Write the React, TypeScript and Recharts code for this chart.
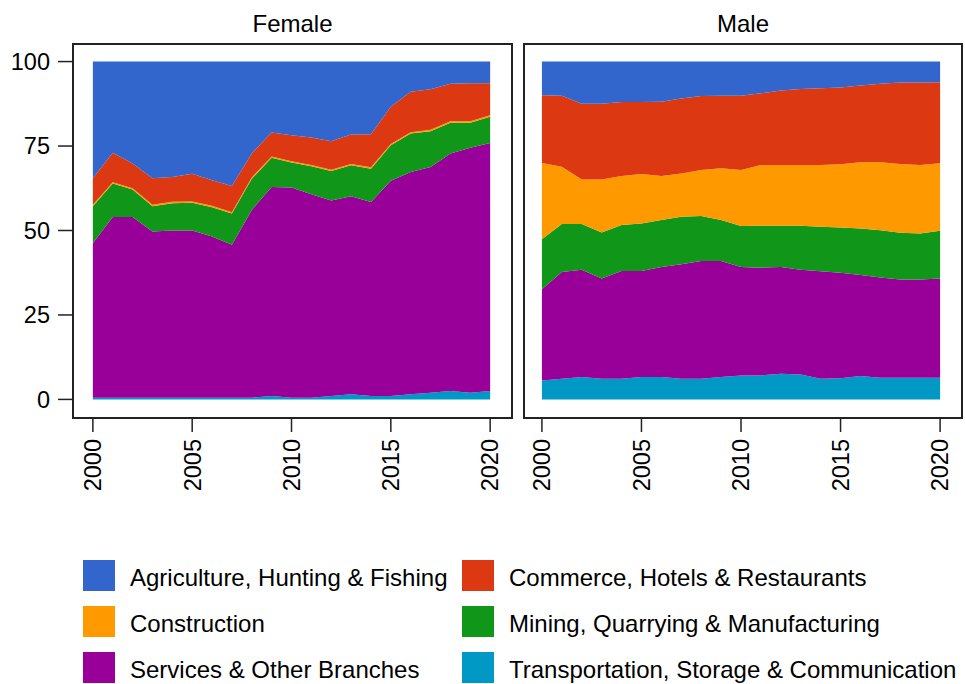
import React from "react";
import { AreaChart, Area, XAxis, YAxis, ReferenceArea } from "recharts";

const years = [2000, 2001, 2002, 2003, 2004, 2005, 2006, 2007, 2008, 2009, 2010, 2011, 2012, 2013, 2014, 2015, 2016, 2017, 2018, 2019, 2020];
const yearTicks = [2000, 2005, 2010, 2015, 2020];
const shareTicks = [0, 25, 50, 75, 100];

// Female shares (%)
const femaleTransport = [0.5, 0.5, 0.5, 0.5, 0.5, 0.5, 0.5, 0.5, 0.5, 1.0, 0.5, 0.5, 1.0, 1.5, 1.0, 1.0, 1.5, 2.0, 2.5, 2.0, 2.5];
const femaleServices = [45.7, 53.5, 53.5, 49.2, 49.5, 49.5, 47.7, 45.3, 55.6, 61.9, 62.2, 60.2, 57.9, 58.6, 57.4, 63.7, 65.8, 66.8, 70.3, 72.5, 73.4];
const femaleMining = [11.0, 9.9, 8.1, 7.5, 8.1, 8.2, 8.7, 9.2, 9.2, 8.6, 7.4, 8.3, 8.7, 9.2, 9.9, 10.5, 11.4, 10.6, 9.1, 7.4, 7.8];
const femaleConstruction = [0.4, 0.4, 0.4, 0.4, 0.4, 0.4, 0.4, 0.4, 0.4, 0.4, 0.4, 0.4, 0.4, 0.4, 0.4, 0.4, 0.4, 0.4, 0.4, 0.4, 0.4];
const femaleCommerce = [7.9, 8.7, 7.3, 7.9, 7.3, 8.2, 7.6, 7.8, 7.1, 7.1, 7.7, 8.1, 8.4, 8.7, 9.8, 11.0, 12.0, 12.0, 11.1, 11.3, 9.5];
const femaleAgriculture = [34.5, 27.0, 30.2, 34.5, 34.2, 33.2, 35.1, 36.8, 27.2, 21.0, 21.8, 22.5, 23.6, 21.6, 21.5, 13.4, 8.9, 8.2, 6.6, 6.4, 6.4];

// Male shares (%)
const maleTransport = [5.6, 6.1, 6.6, 6.1, 6.1, 6.6, 6.6, 6.1, 6.1, 6.6, 7.1, 7.1, 7.6, 7.4, 6.1, 6.3, 6.9, 6.4, 6.4, 6.4, 6.4];
const maleServices = [27.0, 31.6, 31.8, 29.7, 31.9, 31.4, 32.6, 33.9, 34.9, 34.4, 32.1, 31.9, 31.6, 31.0, 31.8, 31.2, 29.9, 29.7, 29.1, 29.1, 29.4];
const maleMining = [14.8, 14.2, 13.5, 13.6, 13.6, 14.1, 13.9, 14.1, 13.3, 12.1, 12.1, 12.4, 12.2, 13.0, 13.2, 13.4, 13.8, 14.0, 13.8, 13.6, 14.1];
const maleConstruction = [22.6, 17.0, 13.2, 15.7, 14.5, 14.6, 13.0, 12.8, 13.6, 15.3, 16.6, 18.0, 18.0, 18.0, 18.3, 18.7, 19.6, 20.1, 20.4, 20.3, 20.0];
const maleCommerce = [20.0, 21.0, 22.4, 22.4, 21.9, 21.3, 22.0, 22.2, 21.9, 21.5, 22.0, 21.2, 22.0, 22.5, 22.7, 22.7, 22.7, 23.2, 24.1, 24.4, 24.0];
const maleAgriculture = [10.0, 10.1, 12.5, 12.5, 12.0, 12.0, 11.9, 10.9, 10.2, 10.1, 10.1, 9.4, 8.6, 8.1, 7.9, 7.7, 7.1, 6.6, 6.2, 6.2, 6.1];

// stacking order, bottom first
const sectors = [
  { key: "transport", name: "Transportation, Storage & Communication", color: "#0099C6" },
  { key: "services", name: "Services & Other Branches", color: "#990099" },
  { key: "mining", name: "Mining, Quarrying & Manufacturing", color: "#109618" },
  { key: "construction", name: "Construction", color: "#FF9900" },
  { key: "commerce", name: "Commerce, Hotels & Restaurants", color: "#DC3912" },
  { key: "agriculture", name: "Agriculture, Hunting & Fishing", color: "#3366CC" },
];

// legend reads row by row, alphabetical
const legendOrder = ["agriculture", "commerce", "construction", "mining", "services", "transport"];

const femaleData = years.map((year, i) => ({
  year,
  transport: femaleTransport[i],
  services: femaleServices[i],
  mining: femaleMining[i],
  construction: femaleConstruction[i],
  commerce: femaleCommerce[i],
  agriculture: femaleAgriculture[i],
}));

const maleData = years.map((year, i) => ({
  year,
  transport: maleTransport[i],
  services: maleServices[i],
  mining: maleMining[i],
  construction: maleConstruction[i],
  commerce: maleCommerce[i],
  agriculture: maleAgriculture[i],
}));

const FONT = '"Liberation Sans", Arial, sans-serif';
const Y_DOMAIN: [number, number] = [-5.5, 105.2];

const YearTick = (props: any) => {
  const { x, y, payload } = props;
  return (
    <text
      x={x}
      y={y}
      dy="0.355em"
      transform={`rotate(-90, ${x}, ${y})`}
      textAnchor="end"
      fill="#000"
      fontSize={23.5}
      fontFamily={FONT}
    >
      {payload.value}
    </text>
  );
};

function Panel({
  data,
  title,
  left,
  width,
  margin,
  xDomain,
  showY,
}: {
  data: any[];
  title: string;
  left: number;
  width: number;
  margin: { top: number; right: number; bottom: number; left: number };
  xDomain: [number, number];
  showY: boolean;
}) {
  const plotLeft = left + margin.left + (showY ? 60 : 0);
  const plotRight = left + width - margin.right;
  return (
    <>
      <div
        style={{
          position: "absolute",
          left: plotLeft,
          width: plotRight - plotLeft,
          top: 12,
          textAlign: "center",
          fontFamily: FONT,
          fontSize: 24,
          lineHeight: "24px",
          color: "#000",
        }}
      >
        {title}
      </div>
      <div style={{ position: "absolute", left, top: 0 }}>
        <AreaChart width={width} height={500} data={data} margin={margin}>
          <XAxis
            dataKey="year"
            type="number"
            domain={xDomain}
            ticks={yearTicks}
            interval={0}
            axisLine={false}
            tickLine={{ stroke: "#222", strokeWidth: 1.5 }}
            tickSize={14}
            tickMargin={7}
            height={60}
            tick={<YearTick />}
          />
          <YAxis
            type="number"
            domain={Y_DOMAIN}
            ticks={shareTicks}
            hide={!showY}
            width={60}
            axisLine={false}
            tickLine={{ stroke: "#222", strokeWidth: 1.5 }}
            tickSize={15}
            tickMargin={8}
            tick={{ fill: "#000", fontSize: 23.5, fontFamily: FONT }}
          />
          {sectors.map((s) => (
            <Area
              key={s.key}
              dataKey={s.key}
              name={s.name}
              stackId="1"
              type="linear"
              stroke="none"
              fill={s.color}
              fillOpacity={1}
              isAnimationActive={false}
            />
          ))}
          <ReferenceArea
            x1={xDomain[0]}
            x2={xDomain[1]}
            y1={Y_DOMAIN[0]}
            y2={Y_DOMAIN[1]}
            fill="none"
            stroke="#222"
            strokeWidth={2}
            ifOverflow="visible"
          />
        </AreaChart>
      </div>
    </>
  );
}

function Legend() {
  return (
    <div
      style={{
        position: "absolute",
        left: 83,
        top: 560,
        display: "grid",
        gridTemplateColumns: "379px auto",
        rowGap: 15,
        fontFamily: FONT,
        fontSize: 24,
        color: "#000",
      }}
    >
      {legendOrder.map((k) => {
        const s = sectors.find((d) => d.key === k)!;
        return (
          <div key={k} style={{ display: "flex", alignItems: "center", height: 31, whiteSpace: "nowrap" }}>
            <div style={{ width: 32, height: 31, background: s.color, marginRight: 15, flex: "none" }} />
            <span style={{ lineHeight: "31px", position: "relative", top: 2 }}>{s.name}</span>
          </div>
        );
      })}
    </div>
  );
}

export default function App() {
  return (
    <div style={{ position: "absolute", left: 0, top: 0, width: 965, height: 684, background: "#fff", overflow: "hidden" }}>
      <Panel
        data={femaleData}
        title="Female"
        left={0}
        width={520}
        margin={{ top: 44, right: 8, bottom: 22, left: 13 }}
        xDomain={[1999, 2021.1]}
        showY={true}
      />
      <Panel
        data={maleData}
        title="Male"
        left={520}
        width={445}
        margin={{ top: 44, right: 3, bottom: 22, left: 4 }}
        xDomain={[1999.1, 2021.1]}
        showY={false}
      />
      <Legend />
    </div>
  );
}
